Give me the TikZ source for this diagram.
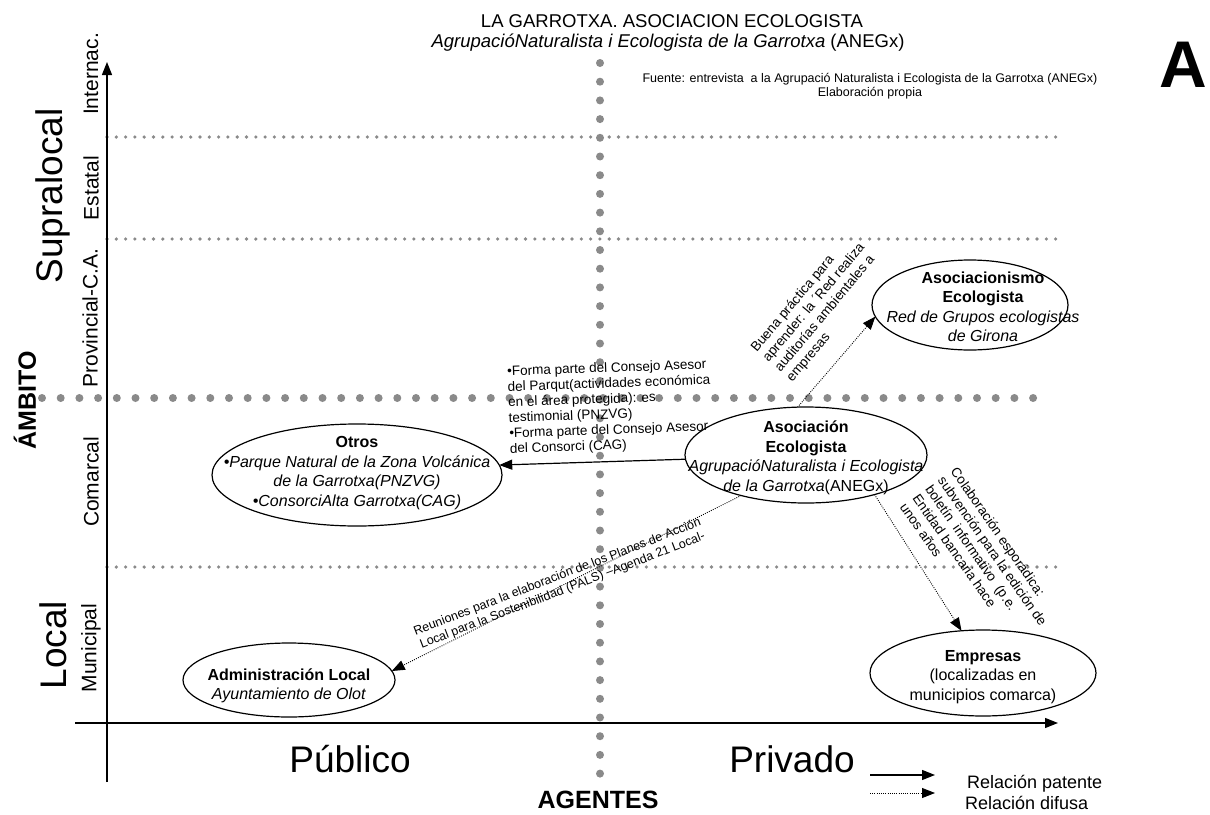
\documentclass[tikz,border=0pt]{standalone}
\usepackage{fontspec}
\setmainfont{Liberation Sans}
\usetikzlibrary{shapes.geometric,arrows.meta}
\definecolor{dotgray}{RGB}{138,138,138}
\newcommand{\fsz}[2]{\fontsize{#1}{#2}\selectfont}
\begin{document}
\begin{tikzpicture}[x=1pt,y=-1pt,
  every node/.style={inner sep=0pt,outer sep=0pt},
  bigdots/.style={draw=dotgray,line width=8pt,line cap=round,dash pattern=on 0pt off 18.7pt},
  smalldots/.style={draw=dotgray,line width=3.6pt,line cap=round,dash pattern=on 0pt off 9.3pt},
  axisline/.style={draw=black,line width=1.3pt},
  axisarrow/.style={axisline,-{Triangle[length=13pt,width=10pt]}},
  patente/.style={draw=black,line width=1.2pt,-{Triangle[length=13pt,width=10pt]}},
  difusa/.style={draw=black,line width=0.9pt,dash pattern=on 0.9pt off 1.3pt,-{Triangle[length=13pt,width=10pt]}},
  oval/.style={draw=black,ellipse,line width=1.2pt},
  ovaltext/.style={align=center,font=\fsz{16}{19.5}},
  edgelabel/.style={align=left,font=\fsz{13.5}{15.5}},
  levlabel/.style={font=\fsz{21}{24},rotate=90},
  bigword/.style={font=\fsz{37}{40}},
  boldword/.style={font=\fsz{25}{28}\bfseries}
]
\fill[white] (0,0) rectangle (1210,814);
\path[use as bounding box] (0,0) rectangle (1210,814);

% titles
\node[font=\fsz{18.5}{22},anchor=base] (title1) at (672,27) {LA GARROTXA. ASOCIACION ECOLOGISTA};
\node[font=\fsz{18.5}{22},anchor=base] (title2) at (668,47) {\textit{AgrupacióNaturalista i Ecologista de la Garrotxa} (ANEGx)};
\node[font=\fsz{12.5}{14},anchor=base] (fuente1) at (870,82) {Fuente: entrevista\ \ a la Agrupació Naturalista i Ecologista de la Garrotxa (ANEGx)};
\node[font=\fsz{12.5}{14},anchor=base] (fuente2) at (870,96) {Elaboración propia};
\node[font=\fsz{66}{70}\bfseries,anchor=base] (bigA) at (1183,87) {A};

% grid of dots
\draw[smalldots] (107,137) -- (1058,137);
\draw[smalldots] (107,239) -- (1058,239);
\draw[smalldots] (107,567) -- (1058,567);
\draw[bigdots] (42,398) -- (1050,398);
\draw[bigdots] (600,63) -- (600,780);

% axes
\coordinate (ybot) at (107,782);
\coordinate (ytop) at (107,62);
\draw[axisarrow] (ybot) -- (ytop);
\coordinate (xleft) at (75,723);
\coordinate (xright) at (1058,723);
\draw[axisarrow] (xleft) -- (xright);

% vertical labels
\node[levlabel] (internac) at (91,74) {Internac.};
\node[levlabel] (estatal) at (91,188) {Estatal};
\node[levlabel] (provincial) at (90,318) {Provincial-C.A.};
\node[levlabel] (comarcal) at (91,482) {Comarcal};
\node[levlabel] (municipal) at (91,648) {Municipal};
\node[bigword,rotate=90] (supralocal) at (53,196) {Supralocal};
\node[bigword,rotate=90] (local) at (53,645) {Local};
\node[boldword,rotate=90] (ambito) at (25,400) {ÁMBITO};

% bottom labels
\node[bigword,anchor=base] (publico) at (350,772) {Público};
\node[bigword,anchor=base] (privado) at (792,772) {Privado};
\node[boldword,anchor=base] (agentes) at (598,808) {AGENTES};

% ellipses
\node[oval,minimum width=242pt,minimum height=96pt] (central) at (806,455) {};
\node[ovaltext] (centraltxt) at (806,458) {\textbf{Asociación}\\\textbf{Ecologista}\\\textit{AgrupacióNaturalista i Ecologista}\\\textit{de la Garrotxa}(ANEGx)};

\node[oval,minimum width=290pt,minimum height=102pt] (otros) at (357,475) {};
\node[ovaltext] (otrostxt) at (357,473) {\textbf{Otros}\\\textit{•Parque Natural de la Zona Volcánica}\\\textit{de la Garrotxa(PNZVG)}\\\textit{•ConsorciAlta Garrotxa(CAG)}};

\node[oval,minimum width=212pt,minimum height=74pt] (admin) at (289,680) {};
\node[ovaltext] (admintxt) at (289,686) {\textbf{Administración Local}\\\textit{Ayuntamiento de Olot}};

\node[oval,minimum width=226pt,minimum height=86pt] (empresas) at (983,673) {};
\node[ovaltext] (empresastxt) at (983,677) {\textbf{Empresas}\\(localizadas en\\municipios comarca)};

\node[oval,minimum width=196pt,minimum height=90pt] (asocia) at (970,305) {};
\node[ovaltext] (asociatxt) at (983,307) {\textbf{Asociacionismo}\\\textbf{Ecologista}\\\textit{Red de Grupos ecologistas}\\\textit{de Girona}};

% connectors
\draw[patente] (central.182) -- (otros.4);
\draw[difusa] (central.100) -- (asocia.187);
\draw[difusa] (central.212) -- (admin.5);
\draw[difusa] (central.-30) -- (empresas.117);

% connector labels
\node[edgelabel,anchor=north west,rotate=2] (lblotros) at (507,366) {•Forma parte del Consejo Asesor\\del Parqut(actividades económica\\en el área protegida): es\\testimonial (PNZVG)\\•Forma parte del Consejo Asesor\\del Consorci (CAG)};
\node[edgelabel,rotate=50] (lblbuena) at (820,308) {Buena práctica para\\aprender: la ´Red realiza\\auditorías ambientales a\\empresas};
\node[edgelabel,rotate=-55] (lblcolab) at (980,560) {Colaboración esporádica:\\subvención para la edición de\\boletín\ \ informativo\ \ (p.e.\\Entidad bancaria hace\\unos años};
\node[align=center,font=\fsz{12.5}{14.5},rotate=21] (lblreun) at (560,584) {Reuniones para la elaboración de los Planes de Acción\\Local para la Sostenibilidad (PALS) –Agenda 21 Local-};

% legend
\coordinate (lp1) at (870,775);
\coordinate (lp2) at (935,775);
\draw[patente] (lp1) -- (lp2);
\coordinate (ld1) at (870,793);
\coordinate (ld2) at (935,793);
\draw[difusa] (ld1) -- (ld2);
\node[font=\fsz{18}{20},anchor=base west] (legpat) at (967,788) {Relación patente};
\node[font=\fsz{18}{20},anchor=base west] (legdif) at (965,809) {Relación difusa};
\end{tikzpicture}
\end{document}
